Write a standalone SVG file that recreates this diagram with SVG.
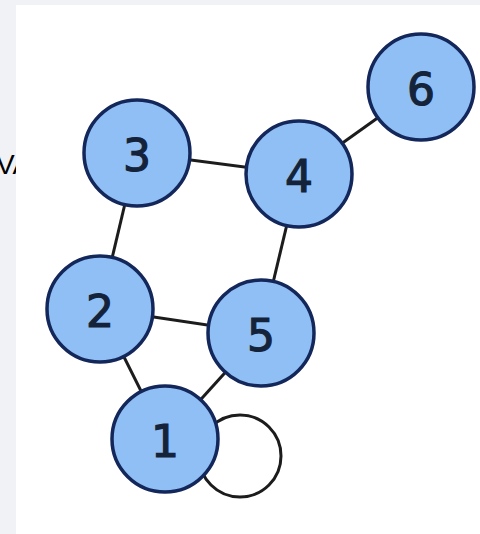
<svg xmlns="http://www.w3.org/2000/svg" width="480" height="534" viewBox="0 0 480 534">
<style>
.node circle{fill:#8fbff4;stroke:#13275a;stroke-width:3.5}
.node text{font-family:"DejaVu Sans",sans-serif;font-size:44px;fill:#14233a;stroke:#14233a;stroke-width:1.2;text-anchor:middle;dominant-baseline:central}
.edges line,.edges circle{stroke:#1c1c1c;stroke-width:3;fill:none}
</style>
<rect width="480" height="534" fill="#f0f2f6"/>
<text x="-4" y="174" font-family="Liberation Sans,Arial,sans-serif" font-size="28" fill="#000">VA</text>
<rect x="16" y="5" width="464" height="529" fill="#ffffff"/>
<g class="edges">
<line x1="137" y1="153" x2="299" y2="174"/>
<line x1="299" y1="174" x2="421" y2="87"/>
<line x1="137" y1="153" x2="100" y2="309"/>
<line x1="299" y1="174" x2="261" y2="333"/>
<line x1="100" y1="309" x2="261" y2="333"/>
<line x1="100" y1="309" x2="165" y2="439"/>
<line x1="261" y1="333" x2="165" y2="439"/>
<circle cx="240" cy="456" r="41"/>
</g>
<g id="n1" class="node"><circle cx="165" cy="439" r="53"/><text x="165" y="441">1</text></g>
<g id="n2" class="node"><circle cx="100" cy="309" r="53"/><text x="100" y="311">2</text></g>
<g id="n3" class="node"><circle cx="137" cy="153" r="53"/><text x="137" y="155">3</text></g>
<g id="n4" class="node"><circle cx="299" cy="174" r="53"/><text x="299" y="176">4</text></g>
<g id="n5" class="node"><circle cx="261" cy="333" r="53"/><text x="261" y="335">5</text></g>
<g id="n6" class="node"><circle cx="421" cy="87" r="53"/><text x="421" y="89">6</text></g>
</svg>
